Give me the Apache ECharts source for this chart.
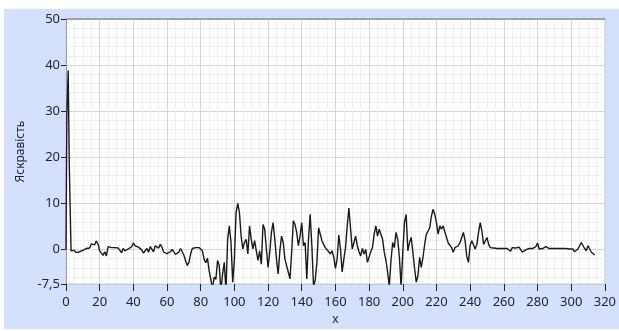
<!DOCTYPE html>
<html>
<head>
<meta charset="utf-8">
<script src="https://cdn.jsdelivr.net/npm/echarts@6/dist/echarts.min.js"></script>
<style>
  html, body { margin: 0; padding: 0; background: #ffffff; }
  #wrap { position: relative; width: 619px; height: 331px; overflow: hidden; }
  #panel { position: absolute; left: 4px; top: 9px; right: 0; bottom: 2px; background: #d5e0fb; }
  #chart { position: absolute; left: 0; top: 0; width: 619px; height: 331px; }
</style>
</head>
<body>
<div id="wrap">
  <div id="panel"></div>
  <div id="chart"></div>
</div>
<script>
// Initial spike of the profile (fractional x positions)
const spikeX = [0, 0.5, 1.3, 1.9];
const spikeY = [0, 29, 38.8, 19.4];

// Brightness profile, one value per x step starting at x = 3
const profileStartX = 3;
const brightness = [
  -0.3, -0.6, -0.2, -0.7, -0.9, -0.5, -0.7, -0.2, 0.1, 0.2,
  0.6, 0.3, 1.2, 1.6, 1.0, 1.8, 1.2, -0.3, -0.8, -1.3,
  -0.5, -1.4, 0.6, 0.9, 0.4, 0.4, 0.4, 0.4, 0.3, -0.2,
  -0.7, 0.2, -0.3, -0.6, 0.1, 0.3, 0.6, 1.4, 0.8, 0.4,
  0.5, 0.6, -0.1, -0.8, -0.4, 0.2, -0.6, 0.6, 0.8, -0.5,
  0.8, 1.0, 0.3, 1.1, 0.5, -0.6, -0.8, -0.9, -0.8, -0.5,
  0, -0.5, -1.1, -1.5, -0.6, 0.2, 0, -1.2, -2.4, -3.5,
  -2.8, -1, 0.2, 0.4, 0.4, 0.4, 0.4, 0.3, -0.3, -2.1,
  -2.9, -1.9, -4.6, -6.5, -8.5, -6, -6.5, -2.4, -3.5, -9,
  -5.3, -2.8, -9, 2.2, 5.1, 1.5, -7.1, -2.1, 8, 10,
  8, 2.9, 0.1, 1.5, 2.2, -1, 5.1, 2.2, 0.1, 1.9,
  1.5, -2.4, -0.3, -3.2, 5.4, 4.4, 0.1, -3.9, -0.6, 3.7,
  5.8, 2.2, -2.1, -5.3, -0.3, 2.9, 1.5, -2.1, -1.7, -4.9,
  -6.4, -0.6, 6.2, 5.4, 3.7, 0.8, 2.9, 5.8, 0.8, 1.5,
  -6.4, 2.2, 7.6, 0.8, -8, -6.7, -2.8, 4.7, 3.3, 1.9,
  1.1, 0.4, 0.1, -0.5, -1, -0.3, -1.7, -4.1, -2.1, 3.1,
  0.1, -4.9, -2.1, 0.4, 5.1, 9, 4.4, 0.1, 0.1, 2.9,
  0.8, -0.5, -1.4, 0.2, -1, 0, -2.8, -2.8, -0.5, 0.4,
  3.3, 5.1, 2.9, 4.4, 4.7, 2.2, -0.6, -2.4, -4.9, -8,
  -2.4, 1.5, 0.4, 3.7, 2.2, -1.7, -8, -0.6, 5.8, 7.6,
  -0.3, 1.5, 2.6, -0.6, -4.1, -7.1, -5.7, -1.7, -3.9, -1.7,
  1.1, 3.3, 3.3, 4.7, 7.2, 8.7, 7.6, 5.8, 3.3, 5.1,
  4.4, 5.1, 3.8, 2.6, 1.4, 1.4, 0.4, -0.6, 0.4, 0.4,
  0.8, 1.5, 2.6, 3.7, 1.9, -1.5, -2.8, 0.9, 1.9, 1.5,
  0.1, 1.1, 3.7, 5.8, 4, 1.1, 1.5, 2.6, 1.1, 0.4,
  0.3, 0.3, 0.2, 0.2, 0.2, 0.2, 0.2, 0.2, 0.2, 0.2,
  0.2, -0.4, 0.4, 0.8, 0.3, 0.6, 0.5, 0.2, -0.6, -0.2,
  -0.1, -0.2, 0.2, 0.6, 0.2, 0.2, 0.6, 1.4, 0.1, 0.4,
  0.2, 0.1, 0.6, 0.4, 0.2, 0.2, 0.2, 0.2, 0.2, 0.2,
  0.2, 0.2, 0.2, 0.2, 0.2, 0.2, 0.1, -0.3, 0.1, -0.5,
  -0.2, 0.1, 0.8, 1.5, 1.7, 0.2, -0.3, 0.8, 0.1, -0.6,
  -0.8, -1.2
];

// Axis ticks
const xTicks = { min: 0, max: 320, step: 20 };
const yTickValues = [-7.5, 0, 10, 20, 30, 40, 50];
const yMinorStep = 2;

const lineData = spikeX.map((x, i) => [x, spikeY[i]])
  .concat(brightness.map((v, i) => [profileStartX + i, v]));

const yMinorValues = [];
for (let v = -6; v < 50; v += yMinorStep) {
  if (v % 10 !== 0) yMinorValues.push(v);
}

const labelFont = { fontFamily: "'Segoe UI', 'Noto Sans', sans-serif", fontSize: 13, color: '#22223a' };

const chart = echarts.init(document.getElementById('chart'), null, { renderer: 'canvas' });
chart.setOption({
  backgroundColor: 'transparent',
  animation: false,
  grid: {
    left: 66, right: 12, top: 19, bottom: 44,
    show: true, backgroundColor: '#ffffff', borderColor: '#cfcfd6', borderWidth: 1
  },
  xAxis: [{
    type: 'value',
    min: xTicks.min, max: xTicks.max, interval: xTicks.step,
    name: 'x', nameLocation: 'middle', nameGap: 30,
    nameTextStyle: Object.assign({}, labelFont, { fontSize: 12 }),
    axisLine: { show: true, onZero: false, lineStyle: { color: '#c8c8d0', width: 1 } },
    axisTick: { show: true, inside: false, length: 7, lineStyle: { color: '#22223a', width: 1 } },
    axisLabel: Object.assign({ margin: 12 }, labelFont),
    splitLine: { show: true, lineStyle: { color: '#d6d6d6', width: 1 } },
    minorTick: { show: false, splitNumber: 4 },
    minorSplitLine: { show: true, lineStyle: { color: '#efefef', width: 1 } }
  }, {
    type: 'value', position: 'top',
    min: xTicks.min, max: xTicks.max,
    axisLine: { show: true, onZero: false, lineStyle: { color: '#8e8e9e', width: 1.5 } },
    axisTick: { show: false }, axisLabel: { show: false }, splitLine: { show: false }
  }],
  yAxis: [{
    type: 'value',
    min: -7.5, max: 50,
    name: 'Яскравість', nameLocation: 'middle', nameGap: 38,
    nameTextStyle: Object.assign({}, labelFont, { fontSize: 12 }),
    axisLine: { show: true, onZero: false, lineStyle: { color: '#9c9cab', width: 1 } },
    axisTick: { show: true, length: 5, customValues: yTickValues, lineStyle: { color: '#22223a' } },
    axisLabel: Object.assign({
      margin: 6,
      customValues: yTickValues,
      formatter: v => String(v).replace('.', ',')
    }, labelFont),
    splitLine: { show: true, lineStyle: { color: '#d6d6d6', width: 1 } }
  }, {
    type: 'value', position: 'left',
    min: -7.5, max: 50,
    axisLine: { show: false, onZero: false },
    axisTick: { show: false, customValues: yMinorValues },
    axisLabel: { show: false },
    splitLine: { show: true, lineStyle: { color: '#efefef', width: 1 } }
  }],
  series: [{
    type: 'line',
    xAxisIndex: 0, yAxisIndex: 0,
    data: lineData,
    showSymbol: false,
    clip: true,
    lineStyle: { color: '#1a1a1a', width: 1.4 },
    z: 5
  }]
});
</script>
</body>
</html>
